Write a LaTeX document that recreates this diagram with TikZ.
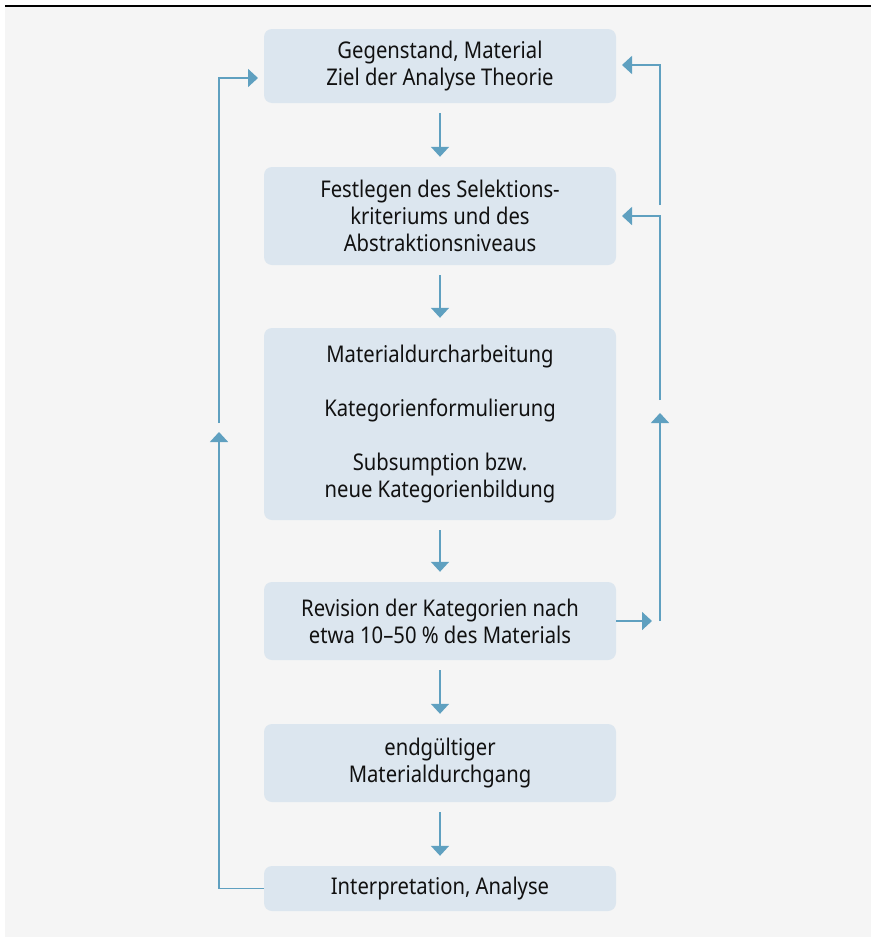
\documentclass[tikz,border=0pt]{standalone}
\usepackage{fontspec}
\setmainfont{Noto Sans}[FakeStretch=0.88]
\usetikzlibrary{arrows.meta}
\definecolor{bgc}{HTML}{F5F5F5}
\definecolor{boxc}{HTML}{DCE6EF}
\definecolor{arrc}{HTML}{5FA0C0}
\definecolor{txtc}{HTML}{111111}
\tikzset{
  box/.style={fill=boxc, rounded corners=8pt, minimum width=352pt, inner sep=0pt,
    align=center, text=txtc, font=\fontsize{23}{27}\selectfont},
  conn/.style={draw=arrc, line width=1.7pt},
  arr/.style={conn, -{Triangle[width=18pt,length=10pt]}}
}
\begin{document}
\begin{tikzpicture}[x=1pt,y=-1pt]
\useasboundingbox (0,0) rectangle (871,937);
\fill[bgc] (5,7) rectangle (871,937);
\draw[black, line width=1.6pt] (5,6) -- (871,6);

\node[box, minimum height=74pt] (b1) at (440,66) {Gegenstand, Material\\Ziel der Analyse Theorie};
\node[box, minimum height=98pt] (b2) at (440,216) {Festlegen des Selektions-\\kriteriums und des\\Abstraktionsniveaus};
\node[box, minimum height=192pt] (b3) at (440,424) {Materialdurcharbeitung\\[27pt]Kategorienformulierung\\[27pt]Subsumption bzw.\\neue Kategorienbildung};
\node[box, minimum height=78pt] (b4) at (440,621) {Revision der Kategorien nach\\etwa 10--50 \% des Materials};
\node[box, minimum height=78pt] (b5) at (440,763) {endgültiger\\Materialdurchgang};
\node[box, minimum height=45pt] (b6) at (440,888.5) {Interpretation, Analyse};

\draw[arr] ([yshift=-10pt]b1.south) -- ([yshift=10pt]b2.north);
\draw[arr] ([yshift=-10pt]b2.south) -- ([yshift=10pt]b3.north);
\draw[arr] ([yshift=-10pt]b3.south) -- ([yshift=10pt]b4.north);
\draw[arr] ([yshift=-10pt]b4.south) -- ([yshift=10pt]b5.north);
\draw[arr] ([yshift=-10pt]b5.south) -- ([yshift=10pt]b6.north);

% left feedback loop
\coordinate (lt1) at (219,432);
\coordinate (ls2) at (219,423);
\coordinate (lt2) at (258,78);
\draw[arr] (b6.west) -| (lt1);
\draw[arr] (ls2) |- (lt2);

% right feedback loop
\coordinate (rt1) at (652,621);
\coordinate (rs2) at (660,621);
\coordinate (rt2) at (660,413);
\coordinate (rs3) at (660,400);
\coordinate (rt3) at (622,216);
\coordinate (rs4) at (660,205);
\coordinate (rt4) at (622,65);
\draw[arr] (b4.east) -- (rt1);
\draw[arr] (rs2) -- (rt2);
\draw[arr] (rs3) |- (rt3);
\draw[arr] (rs4) |- (rt4);
\end{tikzpicture}
\end{document}
